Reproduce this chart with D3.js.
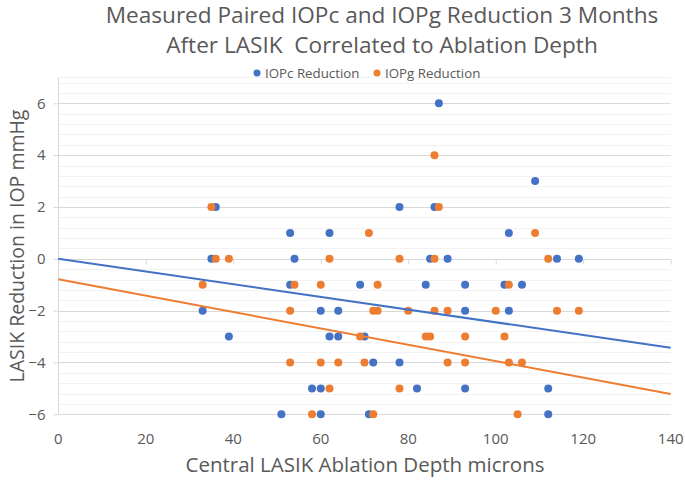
<!DOCTYPE html>
<html>
<head>
<meta charset="utf-8">
<script src="https://cdn.jsdelivr.net/npm/d3@7"></script>
<style>
  html, body { margin: 0; padding: 0; background: #fff; }
  text { font-family: "Open Sans", "Liberation Sans", sans-serif; fill: #595959; white-space: pre; }
</style>
</head>
<body>
<svg id="chart" width="685" height="480"></svg>
<script>
// ---- data ----
const seriesNames = ["IOPc Reduction", "IOPg Reduction"];
const seriesColors = ["#4472C4", "#ED7D31"];

const iopcX = [87, 109, 36, 78, 86, 53, 62, 103, 35, 54, 85, 89, 114, 119,
               53, 69, 84, 93, 102, 106, 33, 60, 64, 93, 103, 39, 62, 64, 70,
               72, 78, 58, 60, 82, 93, 112, 51, 60, 71, 112];
const iopcY = [6, 3, 2, 2, 2, 1, 1, 1, 0, 0, 0, 0, 0, 0,
               -1, -1, -1, -1, -1, -1, -2, -2, -2, -2, -2, -3, -3, -3, -3,
               -4, -4, -5, -5, -5, -5, -5, -6, -6, -6, -6];

const iopgX = [86, 35, 87, 71, 109, 36, 39, 62, 78, 86, 112,
               33, 54, 60, 73, 103, 53, 72, 73, 80, 86, 89, 100, 114, 119,
               69, 84, 85, 93, 102, 53, 60, 64, 70, 89, 93, 103, 106,
               62, 78, 58, 72, 105];
const iopgY = [4, 2, 2, 1, 1, 0, 0, 0, 0, 0, 0,
               -1, -1, -1, -1, -1, -2, -2, -2, -2, -2, -2, -2, -2, -2,
               -3, -3, -3, -3, -3, -4, -4, -4, -4, -4, -4, -4, -4,
               -5, -5, -6, -6, -6];

// linear trendlines as shown in the reference: [intercept, slope]
const iopcTrend = [0, -0.0245];
const iopgTrend = [-0.79, -0.0316];

const xTicks = [0, 20, 40, 60, 80, 100, 120, 140];
const yTicks = [-6, -4, -2, 0, 2, 4, 6];
const xDomain = [0, 140];
const yDomain = [-6, 7];

const titleLines = ["Measured Paired IOPc and IOPg Reduction 3 Months",
                    "After LASIK  Correlated to Ablation Depth"];
const xLabel = "Central LASIK Ablation Depth microns";
const yLabel = "LASIK Reduction in IOP mmHg";

// ---- chart ----
const svg = d3.select("#chart");
const plot = { left: 58.3, right: 670.7, top: 77.4, bottom: 414.3 };

const x = d3.scaleLinear().domain(xDomain).range([plot.left, plot.right]);
const y = d3.scaleLinear().domain(yDomain).range([plot.bottom, plot.top]);

// minor gridlines every 0.4
const minor = d3.range(-6, 7.001, 0.4).map(v => +v.toFixed(2))
  .filter(v => Math.abs(v - Math.round(v / 2) * 2) > 1e-6);
svg.append("g").selectAll("line").data(minor.concat([7])).join("line")
  .attr("x1", plot.left).attr("x2", plot.right)
  .attr("y1", d => Math.round(y(d)) + 0.5).attr("y2", d => Math.round(y(d)) + 0.5)
  .attr("stroke", "#f2f2f2").attr("stroke-width", 1);

// major gridlines
svg.append("g").selectAll("line").data(yTicks).join("line")
  .attr("x1", plot.left).attr("x2", plot.right)
  .attr("y1", d => Math.round(y(d)) + 0.5).attr("y2", d => Math.round(y(d)) + 0.5)
  .attr("stroke", "#d9d9d9").attr("stroke-width", 1);

// y axis (line at x = 0, ticks outward)
const yAxis = d3.axisLeft(y).tickValues(yTicks).tickSize(5).tickPadding(8).tickFormat(d3.format("d"));
const gy = svg.append("g").attr("transform", `translate(${Math.round(plot.left) + 0.5},0)`).call(yAxis);
gy.select(".domain").attr("stroke", "#d9d9d9").attr("d", `M0,${plot.bottom}V${plot.top}`);
gy.selectAll(".tick line").attr("stroke", "#d9d9d9");
gy.selectAll(".tick text").attr("font-size", 15).attr("fill", "#595959")
  .style("font-family", '"Open Sans", sans-serif');

// x axis line at y = 0 with ticks, labels at the bottom
const xAxis = d3.axisBottom(x).tickValues(xTicks).tickSize(5).tickFormat("");
const gx = svg.append("g").attr("transform", `translate(0,${Math.round(y(0)) + 0.5})`).call(xAxis);
gx.select(".domain").attr("stroke", "#d9d9d9").attr("d", `M${plot.left},0H${plot.right}`);
gx.selectAll(".tick line").attr("stroke", "#d9d9d9");

svg.append("g").selectAll("text").data(xTicks).join("text")
  .attr("x", d => x(d)).attr("y", plot.bottom + 30)
  .attr("text-anchor", "middle").attr("font-size", 15).text(d => d);

const series = [
  { xs: iopcX, ys: iopcY, trend: iopcTrend, color: seriesColors[0] },
  { xs: iopgX, ys: iopgY, trend: iopgTrend, color: seriesColors[1] }
];

const line = d3.line().x(d => x(d[0])).y(d => y(d[1]));

series.forEach(s => {
  const pts = s.xs.map((v, i) => [v, s.ys[i]]);
  svg.append("g").selectAll("circle").data(pts).join("circle")
    .attr("cx", d => x(d[0])).attr("cy", d => y(d[1])).attr("r", 4)
    .attr("fill", s.color);
});
series.forEach(s => {
  svg.append("path").datum(xDomain.map(v => [v, s.trend[0] + s.trend[1] * v]))
    .attr("d", line).attr("fill", "none").attr("stroke", s.color).attr("stroke-width", 2);
});

// title
svg.append("g").selectAll("text").data(titleLines).join("text")
  .attr("x", 382).attr("y", (d, i) => 23 + i * 30)
  .attr("text-anchor", "middle").attr("font-size", 22.6).text(d => d);

// legend
const leg = svg.append("g").attr("transform", "translate(0,73)");
const legItems = [{ x: 257, i: 0 }, { x: 377, i: 1 }];
legItems.forEach(li => {
  leg.append("circle").attr("cx", li.x).attr("cy", 0).attr("r", 3.5).attr("fill", seriesColors[li.i]);
  leg.append("text").attr("x", li.x + 8).attr("y", 4.8).attr("font-size", 13.3).text(seriesNames[li.i]);
});

// axis titles
svg.append("text").attr("x", 365).attr("y", 472).attr("text-anchor", "middle")
  .attr("font-size", 20.5).text(xLabel);
svg.append("text").attr("transform", `translate(24,246) rotate(-90)`)
  .attr("text-anchor", "middle").attr("font-size", 19.5).text(yLabel);
</script>
</body>
</html>
